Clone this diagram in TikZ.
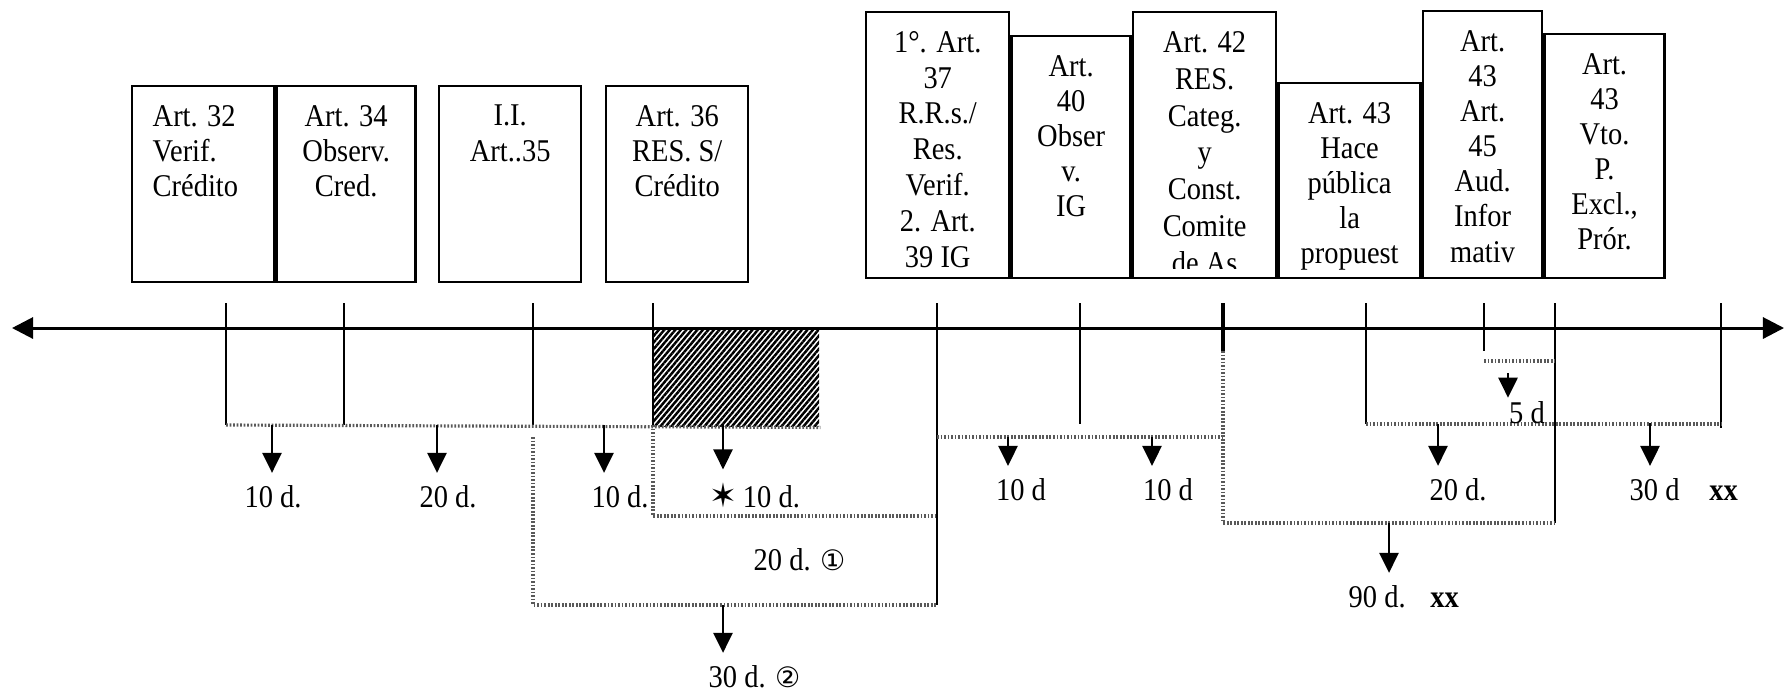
\documentclass[tikz,border=0pt]{standalone}
\usepackage{fontspec}
\setmainfont{Liberation Serif}[FakeStretch=0.9]
\newfontfamily\symbfont{DejaVu Sans}
\usepackage{tikz}
\usetikzlibrary{arrows.meta,positioning,patterns.meta,calc}
\tikzset{
  artbox/.style={rectangle, draw=black, line width=0.7pt, inner sep=0pt, anchor=south west},
  arttext/.style={align=center, font=\fontsize{9}{10}\selectfont, inner sep=0pt},
  hatchbox/.style={rectangle, inner sep=0pt,
    pattern={Lines[angle=50, distance=1.2pt, line width=0.7pt]}},
  timeaxis/.style={{Triangle[length=6pt,width=6pt]}-{Triangle[length=6pt,width=6pt]}, line width=0.85pt},
  bracketline/.style={draw=black!65, line width=0.9pt, dash pattern=on 0.5pt off 0.5pt},
  durarrow/.style={-{Triangle[length=5.7pt,width=5.5pt]}, line width=0.5pt, shorten >=3.5pt},
}

\begin{document}
\begin{tikzpicture}[node distance=0.2cm,
    tickline/.style={line width=0.45pt},
    boldtick/.style={line width=1.4pt},
    daylabel/.style={font=\fontsize{9}{10}\selectfont, inner sep=0pt}]

  \useasboundingbox (0,0) rectangle (17.85,-6.95);

  % Article boxes, left group
  \node[artbox, minimum width=1.42cm, minimum height=1.96cm] (a32) at (1.31,-2.83) {};
  \node[artbox, minimum width=1.39cm, minimum height=1.96cm] (a34) at (a32.south east) {};
  \node[artbox, minimum width=1.42cm, minimum height=1.96cm] (a35) at (4.38,-2.83) {};
  \node[artbox, minimum width=1.42cm, minimum height=1.96cm] (a36) at (6.05,-2.83) {};

  % Article boxes, right group (side by side)
  \node[artbox, minimum width=1.43cm, minimum height=2.66cm] (a37) at (8.65,-2.79) {};
  \node[artbox, minimum width=1.19cm, minimum height=2.42cm] (a40) at (a37.south east) {};
  \node[artbox, minimum width=1.43cm, minimum height=2.66cm] (a42) at (a40.south east) {};
  \node[artbox, minimum width=1.42cm, minimum height=1.95cm] (a43h) at (a42.south east) {};
  \node[artbox, minimum width=1.19cm, minimum height=2.67cm] (a45) at (a43h.south east) {};
  \node[artbox, minimum width=1.20cm, minimum height=2.44cm] (a43v) at (a45.south east) {};

  % Box texts
  \node[arttext, align=left, below right=0.2cm and 0.21cm of a32.north west] (t32) {Art. 32\\Verif.\\Crédito};
  \node[arttext, below=of a34.north] (t34) {Art. 34\\Observ.\\Cred.};
  \node[arttext, below=of a35.north] (t35) {I.I.\\Art..35};
  \node[arttext, below=of a36.north] (t36) {Art. 36\\RES. S/\\Crédito};
  \begin{scope}
    \clip ($(a37.south west)+(0,0.11)$) rectangle (a42.north east);
    \node[arttext, font=\fontsize{9}{10.2}\selectfont, below=of a37.north] (t37) {1°. Art.\\37\\R.R.s./\\Res.\\Verif.\\2. Art.\\39 IG};
    \node[arttext, below=of a40.north] (t40) {Art.\\40\\Obser\\v.\\IG};
    \node[arttext, font=\fontsize{9}{10.5}\selectfont, below=of a42.north] (t42) {Art. 42\\RES.\\Categ.\\y\\Const.\\Comite\\de As};
  \end{scope}
  \node[arttext, below=of a43h.north] (t43h) {Art. 43\\Hace\\pública\\la\\propuest};
  \node[arttext, below=of a45.north] (t45) {Art.\\43\\Art.\\45\\Aud.\\Infor\\mativ};
  \node[arttext, below=of a43v.north] (t43v) {Art.\\43\\Vto.\\P.\\Excl.,\\Prór.};

  % Time axis and its marks
  \coordinate (axl) at (0.12,-3.28);
  \coordinate (axr) at (17.84,-3.28);
  \foreach \n/\x in {k1/2.26, k2/3.44, k3/5.33, k4/6.53, k5/9.37, k6/10.80,
                     k7/12.23, k8/13.66, k9/14.84, k10/15.55, k11/17.21}
    \coordinate (\n) at (\x,-3.03);

  % bracket levels
  \coordinate (ya) at (0,-4.25);
  \coordinate (yb) at (0,-5.16);
  \coordinate (yc) at (0,-6.05);
  \coordinate (yd) at (0,-4.37);
  \coordinate (ye) at (0,-4.24);
  \coordinate (yf) at (0,-3.61);
  \coordinate (yg) at (0,-5.23);
  \coordinate (yh) at (0,-3.51);

  \node[hatchbox, minimum width=1.65cm, minimum height=0.97cm, anchor=north west] (hatch) at (k4 |- axl) {};
  \draw[timeaxis] (axl) -- (axr);

  \foreach \n in {k1,k2,k3,k4}
    \draw[tickline] (\n) -- (\n |- ya);
  \draw[tickline] (k5) -- (k5 |- yc);
  \draw[tickline] (k6) -- (k6 |- ye);
  \draw[boldtick] (k7) -- (k7 |- yh);
  \draw[tickline] (k8) -- (k8 |- ye);
  \draw[tickline] (k9) -- (k9 |- yh);
  \draw[tickline] (k10) -- (k10 |- yg);
  \draw[tickline] (k11) -- ($(k11 |- ye)+(0,-0.04)$);

  % Dotted brackets
  \draw[bracketline] (k1 |- ya) -- (hatch.south east);
  \draw[bracketline] (k4 |- ya) -- (k4 |- yb) -- (k5 |- yb);
  \draw[bracketline] (k3 |- yd) -- (k3 |- yc) -- (k5 |- yc);
  \draw[bracketline] (k5 |- yd) -- (k7 |- yd);
  \draw[bracketline] (k7 |- yh) -- (k7 |- yg) -- (k10 |- yg);
  \draw[bracketline] (k8 |- ye) -- (k11 |- ye);
  \draw[bracketline] (k9 |- yf) -- (k10 |- yf);

  % Day counts
  \node[daylabel] (d10a) at (2.73,-4.97) {10 d.};
  \node[daylabel] (d20a) at (4.48,-4.97) {20 d.};
  \node[daylabel] (d10b) at (6.20,-4.97) {10 d.};
  \node[daylabel, anchor=west] (d10c) at (7.09,-4.95) {{\symbfont\fontsize{9.5}{9.5}\selectfont ✶}\,10 d.};
  \node[daylabel, anchor=west] (d20b) at (7.53,-5.60) {20 d. {\symbfont\fontsize{8}{8}\selectfont ①}};
  \node[daylabel, anchor=west] (d30a) at (7.08,-6.77) {30 d. {\symbfont\fontsize{8}{8}\selectfont ②}};
  \node[daylabel] (d10d) at (10.21,-4.90) {10 d};
  \node[daylabel] (d10e) at (11.68,-4.90) {10 d};
  \node[daylabel] (d20c) at (14.58,-4.90) {20 d.};
  \node[daylabel] (d5) at (15.27,-4.13) {5 d};
  \node[daylabel, anchor=west] (d30b) at (16.29,-4.90) {30 d\hspace{8.5pt}\textbf{xx}};
  \node[daylabel, anchor=west] (d90) at (13.48,-5.97) {90 d.\hspace{7pt}\textbf{xx}};

  % Arrow starts on the brackets
  \foreach \n/\x/\y in {s1/2.72/-4.25, s2/4.37/-4.25, s3/6.04/-4.25, s4/7.23/-4.25,
                        s5/7.23/-6.05, s6/10.08/-4.37, s7/11.52/-4.37, s8/14.38/-4.24,
                        s9/15.08/-3.73, s10/16.50/-4.23, s11/13.89/-5.23}
    \coordinate (\n) at (\x,\y);

  \draw[durarrow] (s1) -- (s1 |- d10a.north);
  \draw[durarrow] (s2) -- (s2 |- d20a.north);
  \draw[durarrow] (s3) -- (s3 |- d10b.north);
  \draw[durarrow] (s4) -- (s4 |- d10c.north);
  \draw[durarrow] (s5) -- (s5 |- d30a.north);
  \draw[durarrow] (s6) -- (s6 |- d10d.north);
  \draw[durarrow] (s7) -- (s7 |- d10e.north);
  \draw[durarrow] (s8) -- (s8 |- d20c.north);
  \draw[durarrow, shorten >=1pt] (s9) -- (s9 |- d5.north);
  \draw[durarrow] (s10) -- (s10 |- d30b.north);
  \draw[durarrow] (s11) -- (s11 |- d90.north);

\end{tikzpicture}
\end{document}
